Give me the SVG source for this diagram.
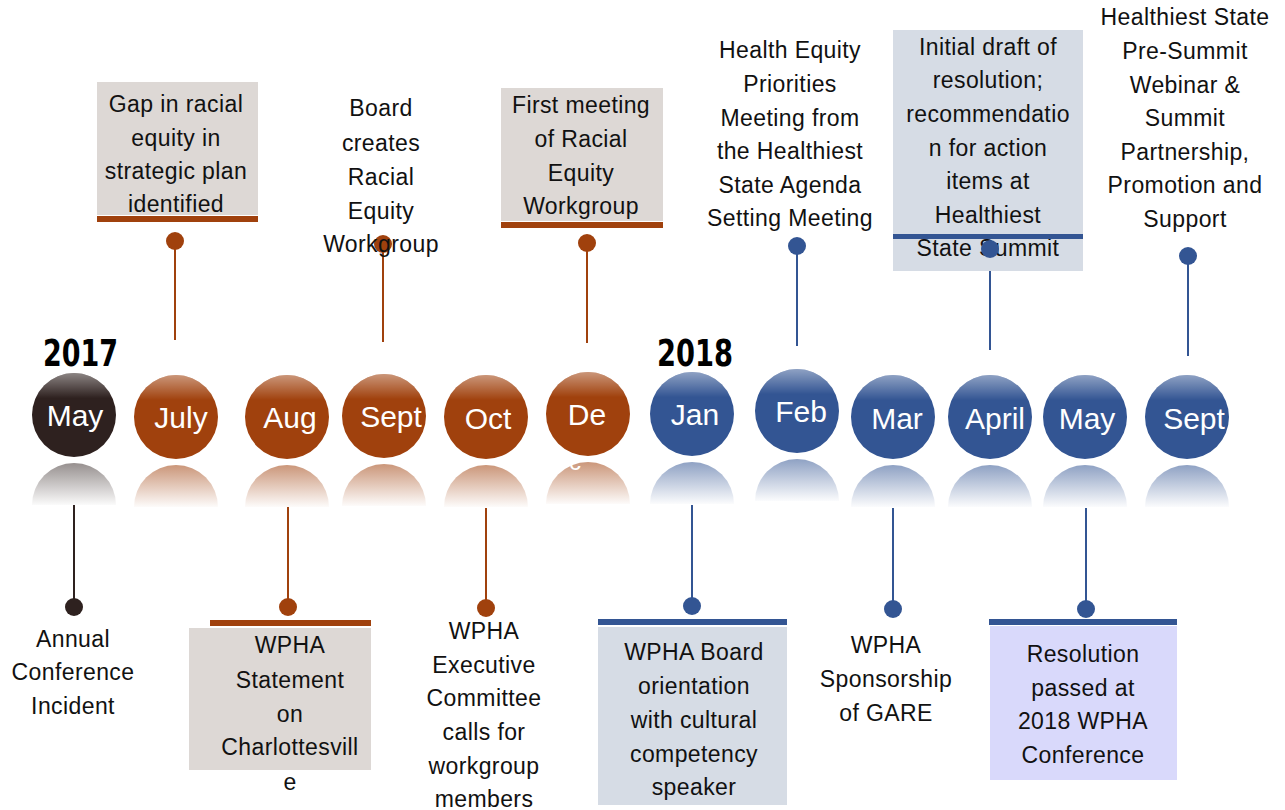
<svg xmlns="http://www.w3.org/2000/svg" width="1285" height="810" viewBox="0 0 1285 810">
<style>
.t{font-family:"Liberation Sans",Arial,sans-serif;font-size:23px;fill:#111;text-anchor:middle;letter-spacing:0.4px}
.m{font-family:"Liberation Sans",Arial,sans-serif;font-size:30px;fill:#fff;text-anchor:middle}
.y{font-family:"Liberation Sans Narrow","DejaVu Sans Condensed",sans-serif;font-weight:bold;font-size:37px;fill:#000}
.lb{stroke:#a0410d;stroke-width:2}
.ll{stroke:#335593;stroke-width:2}
.ld{stroke:#2e211f;stroke-width:2}
.fb{fill:#a0410d}
.fl{fill:#335593}
.fd{fill:#2e211f}
.gbox{fill:#ddd8d5}
.bbox{fill:#d6dce5}
.pbox{fill:#d9d9fb}
</style>
<defs>
<linearGradient id="gloss" x1="0" y1="0" x2="0" y2="1">
<stop offset="0" stop-color="#fff" stop-opacity="0.45"/>
<stop offset="0.3" stop-color="#fff" stop-opacity="0"/>
<stop offset="1" stop-color="#fff" stop-opacity="0"/>
</linearGradient>
<linearGradient id="rb" x1="0" y1="0" x2="0" y2="1">
<stop offset="0" stop-color="#a0410d" stop-opacity="0.55"/>
<stop offset="1" stop-color="#a0410d" stop-opacity="0.02"/>
</linearGradient>
<linearGradient id="rl" x1="0" y1="0" x2="0" y2="1">
<stop offset="0" stop-color="#335593" stop-opacity="0.55"/>
<stop offset="1" stop-color="#335593" stop-opacity="0.02"/>
</linearGradient>
<linearGradient id="rd" x1="0" y1="0" x2="0" y2="1">
<stop offset="0" stop-color="#2e211f" stop-opacity="0.5"/>
<stop offset="1" stop-color="#2e211f" stop-opacity="0.02"/>
</linearGradient>
</defs>
<rect width="1285" height="810" fill="#fff"/>

<text class="y" x="43" y="366" textLength="75" lengthAdjust="spacingAndGlyphs">2017</text>
<text class="y" x="657" y="366" textLength="76" lengthAdjust="spacingAndGlyphs">2018</text>

<g id="connectors">
<line class="lb" x1="175" y1="241" x2="175" y2="340"/>
<line class="lb" x1="383" y1="244" x2="383" y2="342"/>
<line class="lb" x1="587" y1="243" x2="587" y2="343"/>
<line class="ll" x1="797" y1="246" x2="797" y2="346"/>
<line class="ll" x1="990" y1="249" x2="990" y2="350"/>
<line class="ll" x1="1188" y1="256" x2="1188" y2="356"/>
<line class="ld" x1="74" y1="505" x2="74" y2="607"/>
<line class="lb" x1="288" y1="507" x2="288" y2="607"/>
<line class="lb" x1="486" y1="508" x2="486" y2="608"/>
<line class="ll" x1="692" y1="505" x2="692" y2="606"/>
<line class="ll" x1="893" y1="508" x2="893" y2="609"/>
<line class="ll" x1="1086" y1="508" x2="1086" y2="609"/>
</g>

<!-- month circles -->
<g id="m-may17"><circle class="fd" cx="74" cy="415" r="42"/><circle cx="74" cy="415" r="42" fill="url(#gloss)"/><path d="M32 505A42 42 0 0 1 116 505Z" fill="url(#rd)"/><text class="m" x="75" y="426">May</text></g>
<g id="m-jul"><circle class="fb" cx="176" cy="417" r="42"/><circle cx="176" cy="417" r="42" fill="url(#gloss)"/><path d="M134 507A42 42 0 0 1 218 507Z" fill="url(#rb)"/><text class="m" x="181" y="428">July</text></g>
<g id="m-aug"><circle class="fb" cx="287" cy="417" r="42"/><circle cx="287" cy="417" r="42" fill="url(#gloss)"/><path d="M245 507A42 42 0 0 1 329 507Z" fill="url(#rb)"/><text class="m" x="290" y="428">Aug</text></g>
<g id="m-sep17"><circle class="fb" cx="384" cy="416" r="42"/><circle cx="384" cy="416" r="42" fill="url(#gloss)"/><path d="M342 506A42 42 0 0 1 426 506Z" fill="url(#rb)"/><text class="m" x="391" y="427">Sept</text></g>
<g id="m-oct"><circle class="fb" cx="486" cy="417" r="42"/><circle cx="486" cy="417" r="42" fill="url(#gloss)"/><path d="M444 507A42 42 0 0 1 528 507Z" fill="url(#rb)"/><text class="m" x="488" y="429">Oct</text></g>
<g id="m-dec"><circle class="fb" cx="588" cy="414" r="42"/><circle cx="588" cy="414" r="42" fill="url(#gloss)"/><path d="M546 504A42 42 0 0 1 630 504Z" fill="url(#rb)"/><text class="m" x="587" y="425">De</text><text class="m" x="575" y="470" style="font-size:24px">c</text></g>
<g id="m-jan"><circle class="fl" cx="692" cy="414" r="42"/><circle cx="692" cy="414" r="42" fill="url(#gloss)"/><path d="M650 504A42 42 0 0 1 734 504Z" fill="url(#rl)"/><text class="m" x="695" y="425">Jan</text></g>
<g id="m-feb"><circle class="fl" cx="797" cy="411" r="42"/><circle cx="797" cy="411" r="42" fill="url(#gloss)"/><path d="M755 501A42 42 0 0 1 839 501Z" fill="url(#rl)"/><text class="m" x="801" y="422">Feb</text></g>
<g id="m-mar"><circle class="fl" cx="893" cy="417" r="42"/><circle cx="893" cy="417" r="42" fill="url(#gloss)"/><path d="M851 507A42 42 0 0 1 935 507Z" fill="url(#rl)"/><text class="m" x="897" y="429">Mar</text></g>
<g id="m-apr"><circle class="fl" cx="990" cy="417" r="42"/><circle cx="990" cy="417" r="42" fill="url(#gloss)"/><path d="M948 507A42 42 0 0 1 1032 507Z" fill="url(#rl)"/><text class="m" x="995" y="429">April</text></g>
<g id="m-may18"><circle class="fl" cx="1085" cy="417" r="42"/><circle cx="1085" cy="417" r="42" fill="url(#gloss)"/><path d="M1043 507A42 42 0 0 1 1127 507Z" fill="url(#rl)"/><text class="m" x="1087" y="429">May</text></g>
<g id="m-sep18"><circle class="fl" cx="1187" cy="417" r="42"/><circle cx="1187" cy="417" r="42" fill="url(#gloss)"/><path d="M1145 507A42 42 0 0 1 1229 507Z" fill="url(#rl)"/><text class="m" x="1194" y="429">Sept</text></g>

<!-- top events -->
<g id="e-jul">
<rect class="gbox" x="97" y="82" width="161" height="133"/>
<rect class="fb" x="97" y="216" width="161" height="6"/>
<circle class="fb" cx="175" cy="241" r="9"/>
<text class="t" x="176"><tspan x="176" y="112">Gap in racial</tspan><tspan x="176" y="146">equity in</tspan><tspan x="176" y="179">strategic plan</tspan><tspan x="176" y="212">identified</tspan></text>
</g>
<g id="e-sep17">
<circle class="fb" cx="383" cy="244" r="9"/>
<text class="t" x="381"><tspan x="381" y="116">Board</tspan><tspan x="381" y="151">creates</tspan><tspan x="381" y="185">Racial</tspan><tspan x="381" y="219">Equity</tspan><tspan x="381" y="252">Workgroup</tspan></text>
</g>
<g id="e-dec">
<rect class="gbox" x="501" y="88" width="162" height="133"/>
<rect class="fb" x="501" y="222" width="162" height="6"/>
<circle class="fb" cx="587" cy="243" r="9"/>
<text class="t" x="581"><tspan x="581" y="113">First meeting</tspan><tspan x="581" y="147">of Racial</tspan><tspan x="581" y="181">Equity</tspan><tspan x="581" y="214">Workgroup</tspan></text>
</g>
<g id="e-feb">
<circle class="fl" cx="797" cy="246" r="9"/>
<text class="t" x="790"><tspan x="790" y="58">Health Equity</tspan><tspan x="790" y="92">Priorities</tspan><tspan x="790" y="126">Meeting from</tspan><tspan x="790" y="159">the Healthiest</tspan><tspan x="790" y="193">State Agenda</tspan><tspan x="790" y="226">Setting Meeting</tspan></text>
</g>
<g id="e-apr">
<rect class="bbox" x="893" y="30" width="190" height="241"/>
<text class="t" x="988"><tspan x="988" y="55">Initial draft of</tspan><tspan x="988" y="88">resolution;</tspan><tspan x="988" y="122">recommendatio</tspan><tspan x="988" y="156">n for action</tspan><tspan x="988" y="189">items at</tspan><tspan x="988" y="223">Healthiest</tspan><tspan x="988" y="256">State Summit</tspan></text>
<rect class="fl" x="893" y="234" width="190" height="5"/>
<circle class="fl" cx="990" cy="249" r="9"/>
</g>
<g id="e-sep18">
<circle class="fl" cx="1188" cy="256" r="9"/>
<text class="t" x="1185"><tspan x="1185" y="25">Healthiest State</tspan><tspan x="1185" y="59">Pre-Summit</tspan><tspan x="1185" y="93">Webinar &amp;</tspan><tspan x="1185" y="126">Summit</tspan><tspan x="1185" y="160">Partnership,</tspan><tspan x="1185" y="193">Promotion and</tspan><tspan x="1185" y="227">Support</tspan></text>
</g>

<!-- bottom events -->
<g id="e-may17">
<circle class="fd" cx="74" cy="607" r="9"/>
<text class="t" x="73"><tspan x="73" y="647">Annual</tspan><tspan x="73" y="680">Conference</tspan><tspan x="73" y="714">Incident</tspan></text>
</g>
<g id="e-aug">
<rect class="gbox" x="189" y="628" width="182" height="142"/>
<rect class="fb" x="210" y="620" width="161" height="6"/>
<circle class="fb" cx="288" cy="607" r="9"/>
<text class="t" x="290"><tspan x="290" y="653">WPHA</tspan><tspan x="290" y="688">Statement</tspan><tspan x="290" y="722">on</tspan><tspan x="290" y="755">Charlottesvill</tspan><tspan x="290" y="790">e</tspan></text>
</g>
<g id="e-oct">
<circle class="fb" cx="486" cy="608" r="9"/>
<text class="t" x="484"><tspan x="484" y="639">WPHA</tspan><tspan x="484" y="673">Executive</tspan><tspan x="484" y="706">Committee</tspan><tspan x="484" y="740">calls for</tspan><tspan x="484" y="774">workgroup</tspan><tspan x="484" y="807">members</tspan></text>
</g>
<g id="e-jan">
<rect class="bbox" x="598" y="627" width="189" height="178"/>
<rect class="fl" x="598" y="619" width="189" height="6"/>
<circle class="fl" cx="692" cy="606" r="9"/>
<text class="t" x="694"><tspan x="694" y="660">WPHA Board</tspan><tspan x="694" y="694">orientation</tspan><tspan x="694" y="728">with cultural</tspan><tspan x="694" y="762">competency</tspan><tspan x="694" y="795">speaker</tspan></text>
</g>
<g id="e-mar">
<circle class="fl" cx="893" cy="609" r="9"/>
<text class="t" x="886"><tspan x="886" y="653">WPHA</tspan><tspan x="886" y="687">Sponsorship</tspan><tspan x="886" y="721">of GARE</tspan></text>
</g>
<g id="e-may18">
<rect class="pbox" x="990" y="626" width="187" height="154"/>
<rect class="fl" x="989" y="619" width="188" height="6"/>
<circle class="fl" cx="1086" cy="609" r="9"/>
<text class="t" x="1083"><tspan x="1083" y="662">Resolution</tspan><tspan x="1083" y="696">passed at</tspan><tspan x="1083" y="729">2018 WPHA</tspan><tspan x="1083" y="763">Conference</tspan></text>
</g>
</svg>
